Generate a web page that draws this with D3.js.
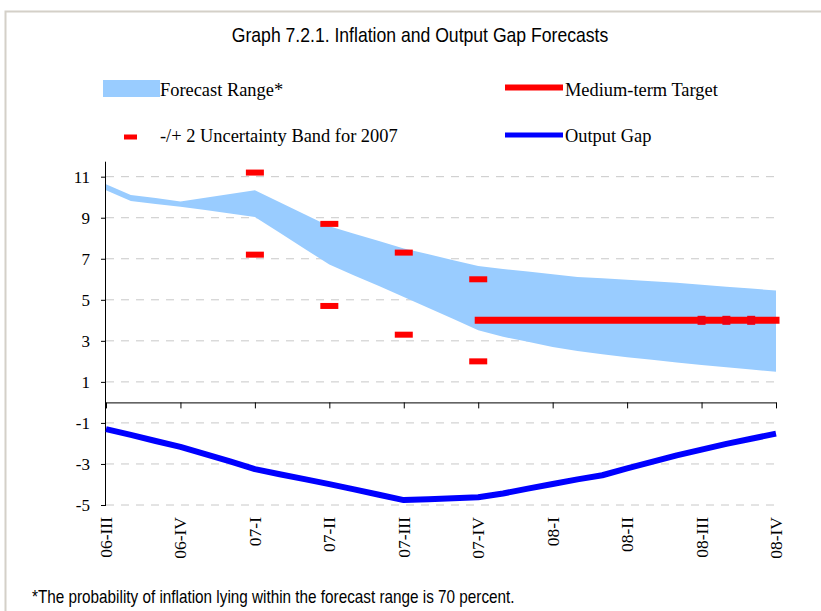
<!DOCTYPE html>
<html>
<head>
<meta charset="utf-8">
<script src="https://cdn.jsdelivr.net/npm/d3@7"></script>
<style>
  html, body { margin: 0; padding: 0; background: #fff; }
  svg { display: block; }
</style>
</head>
<body>
<svg id="chart" width="821" height="611"></svg>
<script>
// Quarterly tick labels (monthly data, three points per quarter)
const quarterLabels = ["06-III", "06-IV", "07-I", "07-II", "07-III", "07-IV", "08-I", "08-II", "08-III", "08-IV"];

// Inflation forecast range, monthly, upper and lower edges (%)
const bandHigh = [10.63, 10.11, 9.96, 9.79, 9.97, 10.16, 10.34, 9.75, 9.17, 8.58, 8.22, 7.86, 7.50, 7.22,
                  6.93, 6.65, 6.50, 6.38, 6.25, 6.11, 6.05, 5.98, 5.91, 5.83, 5.73, 5.64, 5.55, 5.45];
const bandLow  = [10.34, 9.82, 9.67, 9.54, 9.38, 9.21, 9.04, 8.27, 7.49, 6.72, 6.19, 5.67, 5.14, 4.60,
                  4.06, 3.52, 3.20, 2.95, 2.70, 2.51, 2.35, 2.20, 2.08, 1.95, 1.82, 1.71, 1.60, 1.49];

// Output gap, monthly (%)
const outputGap = [-1.30, -1.58, -1.88, -2.17, -2.52, -2.88, -3.25, -3.50, -3.74, -3.98, -4.24, -4.50, -4.76, -4.72,
                   -4.67, -4.62, -4.44, -4.20, -3.98, -3.75, -3.55, -3.22, -2.90, -2.58, -2.30, -2.02, -1.77, -1.52];

// -/+ 2 uncertainty band for 2007
const bandQuarters = ["07-I", "07-II", "07-III", "07-IV"];
const bandUpper = [11.2, 8.7, 7.3, 6.0];
const bandLower = [7.2, 4.7, 3.3, 2.0];

// Medium-term target from 07-IV to 08-IV, monthly
const targetStart = "07-IV";
const targetValues = [4, 4, 4, 4, 4, 4, 4, 4, 4, 4, 4, 4, 4];

// Value axis ticks
const yTicks = [-5, -3, -1, 1, 3, 5, 7, 9, 11];

const SERIF = "'Liberation Serif', 'Times New Roman', serif";
const SANS = "'Liberation Sans', Arial, sans-serif";

const svg = d3.select("#chart");

// Outer frame
svg.append("rect")
  .attr("x", 5.5).attr("y", 11.5).attr("width", 840).attr("height", 640)
  .attr("fill", "#fff").attr("stroke", "#d4d0c8").attr("stroke-width", 2);

const monthsPerQuarter = 3;
const x = d3.scaleLinear().domain([0, (quarterLabels.length - 1) * monthsPerQuarter]).range([106, 776]);
const y = d3.scaleLinear().domain([-5, 11.73]).range([505, 161.7]);
const qIndex = q => quarterLabels.indexOf(q) * monthsPerQuarter;

// Narrow sans text: regular face squeezed horizontally
function narrowText(sel, str, cx, cy, size, squeeze, anchor) {
  const g = sel.append("g").attr("transform", `translate(${cx},${cy}) scale(${squeeze},1)`);
  g.append("text").attr("x", 0).attr("y", 0)
    .attr("text-anchor", anchor)
    .style("font-family", SANS).style("font-size", size + "px")
    .attr("fill", "#000").text(str);
}

// Title
narrowText(svg, "Graph 7.2.1. Inflation and Output Gap Forecasts", 420, 42, 20, 0.88, "middle");

// Gridlines
svg.append("g").selectAll("line").data(yTicks).join("line")
  .attr("x1", x.range()[0]).attr("x2", x.range()[1])
  .attr("y1", d => y(d)).attr("y2", d => y(d))
  .attr("stroke", "#c8c8c8").attr("stroke-width", 1)
  .attr("stroke-dasharray", "8,7");

// Forecast range
const area = d3.area()
  .x((d, i) => x(i))
  .y0((d, i) => y(bandLow[i]))
  .y1(d => y(d));
svg.append("path").datum(bandHigh)
  .attr("d", area).attr("fill", "#99ccff");

// Axes
const yAxis = d3.axisLeft(y).tickValues(yTicks).tickSize(5).tickPadding(11).tickFormat(d => String(d));
const gy = svg.append("g").attr("transform", `translate(${x.range()[0]},0)`).call(yAxis)
  .attr("font-family", null).attr("font-size", null);
gy.select(".domain").attr("stroke", "#000").attr("d", `M-0.5,${y.range()[1]}V${y.range()[0]}`);
gy.selectAll(".tick line").attr("stroke", "#000");
gy.selectAll("text").style("font-family", SERIF).style("font-size", "17px").attr("fill", "#000");

const quarterTicks = quarterLabels.map((q, i) => i * monthsPerQuarter);
const xAxis = d3.axisBottom(x).tickValues(quarterTicks).tickSize(6).tickSizeOuter(0)
  .tickFormat(d => quarterLabels[d / monthsPerQuarter]);
const gx = svg.append("g").attr("transform", `translate(0,${y(0)})`).call(xAxis);
gx.select(".domain").attr("stroke", "#000");
gx.selectAll(".tick line").attr("stroke", "#000");
gx.selectAll("text").remove();

// Category labels along the bottom, rotated
svg.append("g").selectAll("text").data(quarterTicks).join("text")
  .style("font-family", SERIF).style("font-size", "17.5px").attr("fill", "#000")
  .attr("text-anchor", "end")
  .attr("transform", d => `translate(${x(d) + 6},517) rotate(-90)`)
  .text(d => quarterLabels[d / monthsPerQuarter]);

// Medium-term target
const t0 = qIndex(targetStart);
const line = d3.line().x(d => x(d[0])).y(d => y(d[1]));
svg.append("path").datum(targetValues.map((v, i) => [t0 + i, v]))
  .attr("d", line).attr("fill", "none")
  .attr("stroke", "#ff0000").attr("stroke-width", 7).attr("stroke-linecap", "square");
svg.append("g").selectAll("rect").data(targetValues.slice(-4, -1).map((v, i) => [t0 + targetValues.length - 4 + i, v]))
  .join("rect")
  .attr("x", d => x(d[0]) - 4).attr("y", d => y(d[1]) - 4.5)
  .attr("width", 8).attr("height", 9).attr("fill", "#ef0010");

// Uncertainty band markers
const dashes = bandQuarters.flatMap((q, i) => [[qIndex(q), bandUpper[i]], [qIndex(q), bandLower[i]]]);
svg.append("g").selectAll("rect").data(dashes).join("rect")
  .attr("x", d => x(d[0]) - 9).attr("y", d => y(d[1]) - 3)
  .attr("width", 18).attr("height", 6).attr("fill", "#ff0000");

// Output gap
svg.append("path").datum(outputGap.map((v, i) => [i, v]))
  .attr("d", line).attr("fill", "none")
  .attr("stroke", "#0000ff").attr("stroke-width", 6).attr("stroke-linejoin", "round");

// Legend
const legend = svg.append("g");
legend.append("rect").attr("x", 103).attr("y", 80).attr("width", 57).attr("height", 17).attr("fill", "#99ccff");
legend.append("line").attr("x1", 505).attr("x2", 563).attr("y1", 87.5).attr("y2", 87.5)
  .attr("stroke", "#ff0000").attr("stroke-width", 6);
legend.append("rect").attr("x", 124).attr("y", 134.5).attr("width", 13).attr("height", 5).attr("fill", "#ff0000");
legend.append("line").attr("x1", 505).attr("x2", 563).attr("y1", 135).attr("y2", 135)
  .attr("stroke", "#0000ff").attr("stroke-width", 5);
const legendText = [
  ["Forecast Range*", 160, 96],
  ["Medium-term Target", 565, 96],
  ["-/+ 2 Uncertainty Band for 2007", 160, 142],
  ["Output Gap", 565, 142]
];
legend.selectAll("text").data(legendText).join("text")
  .style("font-family", SERIF).style("font-size", "18.4px").attr("fill", "#000")
  .attr("x", d => d[1]).attr("y", d => d[2]).text(d => d[0]);

// Footnote
narrowText(svg, "*The probability of inflation lying within the forecast range is 70 percent.", 32, 603, 18, 0.85, "start");
</script>
</body>
</html>
